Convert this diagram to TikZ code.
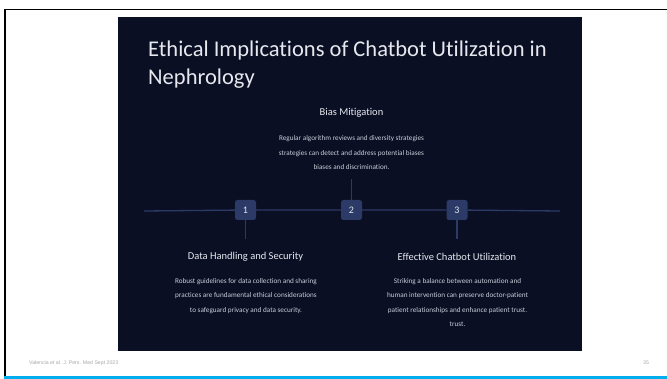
\documentclass[tikz,border=0pt]{standalone}
\usepackage{fontspec}
\setmainfont[Ligatures=NoCommon]{Carlito}
\newfontfamily\footfont{Liberation Sans}
\definecolor{panel}{HTML}{0A0F24}
\definecolor{rail}{HTML}{2C3A66}
\definecolor{stepfill}{HTML}{2B3A66}
\definecolor{headtext}{HTML}{E6E8EE}
\definecolor{bodytext}{HTML}{C9CDD8}
\definecolor{footgrey}{HTML}{A8A8A8}
\definecolor{barblue}{HTML}{00AEEF}
\tikzset{
  stepbox/.style={fill=stepfill, rounded corners=2.5pt, minimum width=21pt, minimum height=20pt, inner sep=0pt, text=headtext, font=\fontsize{10}{12}\selectfont},
  heading/.style={text=headtext, font=\fontsize{10.5}{12}\selectfont, inner sep=0pt},
  body/.style={text=bodytext, align=center, font=\fontsize{7.2}{14.5}\selectfont, inner sep=0pt},
  railline/.style={draw=rail, line width=1.3pt}
}
\begin{document}
\begin{tikzpicture}[x=1pt, y=-1pt]
      \useasboundingbox (0,0) rectangle (667,379);
      \fill[white] (0,0) rectangle (667,379);
      % slide frame and bottom bar
      \draw[line width=1.6pt] (5,379) -- (5,9.5) -- (667,9.5);
      \fill[barblue] (4,376) rectangle (667,379);
      % dark panel
      \fill[panel] (118,17) rectangle (582,351);
      % multi-line nodes sit on the baseline of their last line
      \node[anchor=base west, text=headtext, align=left, font=\fontsize{22.5}{28.3}\selectfont, inner sep=0pt] (title) at (148,85) {Ethical Implications of Chatbot Utilization in\\Nephrology};
      % timeline
      \coordinate (railL) at (144,211);
      \coordinate (railR) at (560,211);
      \node[stepbox] (s1) at (245.5,210) {1};
      \node[stepbox] (s2) at (351.5,210) {2};
      \node[stepbox] (s3) at (457,210) {3};
      \draw[railline] (railL) -- (s1) -- (s2) -- (s3) -- (railR);
      \coordinate (t2) at (351.5,179);
      \coordinate (t1) at (245.5,239);
      \coordinate (t3) at (457,239);
      \draw[railline] (s2) -- (t2);
      \draw[railline] (s1) -- (t1);
      \draw[railline] (s3) -- (t3);
      % texts
      \node[heading] (h2) at (351.5,113) {Bias Mitigation};
      \node[body, anchor=base] (b2) at (351.5,170) {Regular algorithm reviews and diversity strategies\\strategies can detect and address potential biases\\biases and discrimination.};
      \node[heading] (h1) at (245.5,257) {Data Handling and Security};
      \node[body, anchor=base] (b1) at (246,312.5) {Robust guidelines for data collection and sharing\\practices are fundamental ethical considerations\\to safeguard privacy and data security.};
      \node[heading] (h3) at (457,257) {Effective Chatbot Utilization};
      \node[body, anchor=base] (b3) at (457.5,327) {Striking a balance between automation and\\human intervention can preserve doctor-patient\\patient relationships and enhance patient trust.\\trust.};
      % footer
      \node[anchor=west, text=footgrey, font=\footfont\fontsize{5.2}{6}\selectfont, inner sep=0pt] (cite) at (29,363) {Valencia et al. J. Pers. Med Sept 2023};
      \node[anchor=west, text=footgrey, font=\footfont\fontsize{5.2}{6}\selectfont, inner sep=0pt] (page) at (643,363) {35};
   \end{tikzpicture}
\end{document}
